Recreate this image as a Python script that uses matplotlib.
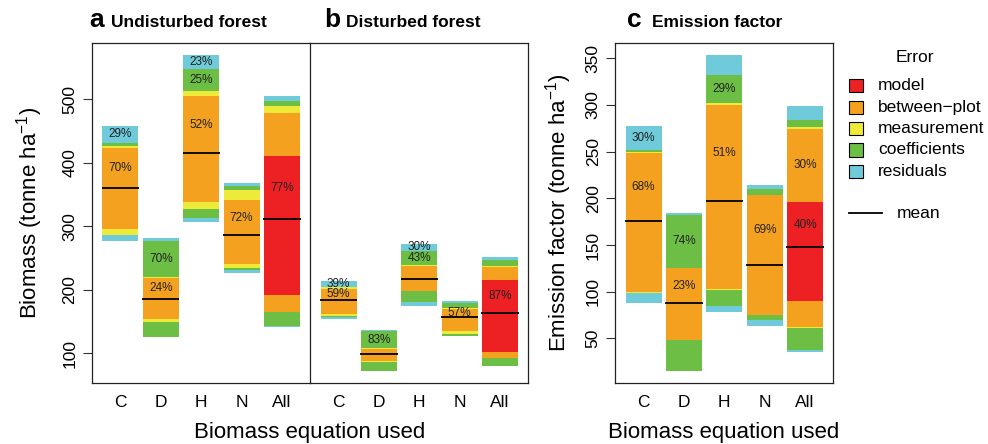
import matplotlib
matplotlib.use('Agg')
import matplotlib.pyplot as plt
import numpy as np
from matplotlib.patches import Rectangle
from matplotlib.lines import Line2D

plt.rcParams['font.family'] = ['Liberation Sans', 'DejaVu Sans']
plt.rcParams['mathtext.fontset'] = 'custom'
plt.rcParams['mathtext.rm'] = 'Liberation Sans'
plt.rcParams['mathtext.it'] = 'Liberation Sans:italic'
plt.rcParams['mathtext.bf'] = 'Liberation Sans:bold'

groups = ['C', 'D', 'H', 'N', 'All']
layers = ['model', 'between', 'meas', 'coef', 'resid']
layer_names = ['model', 'between\u2212plot', 'measurement', 'coefficients', 'residuals']
colors = {'model': '#ED2024', 'between': '#F4A11F', 'meas': '#EEEA3A',
          'coef': '#6DBE45', 'resid': '#6FCBDA'}

# a: undisturbed forest (lo, hi) of each error layer, innermost first
undist_mean = [360, 186, 415, 286, 311]
undist_model = [(360, 360), (186, 186), (415, 415), (286, 286), (192, 411)]
undist_between = [(296, 423), (154, 219), (338, 505), (241, 341), (165, 478)]
undist_meas = [(286, 426), (150, 220), (327, 513), (234, 357), (165, 490)]
undist_coef = [(286, 431), (125, 277), (313, 548), (231, 364), (143, 497)]
undist_resid = [(277, 458), (125, 282), (306, 570), (227, 368), (142, 505)]
undist_pct = {'model': ['', '', '', '', '77%'],
              'between': ['70%', '24%', '52%', '72%', ''],
              'coef': ['', '70%', '25%', '', ''],
              'resid': ['29%', '', '23%', '', '']}

# b: disturbed forest
dist_mean = [184, 99, 217.5, 156.7, 164]
dist_model = [(184, 184), (99, 99), (217.5, 217.5), (156.7, 156.7), (102, 215.4)]
dist_between = [(162, 201.7), (88, 106.8), (198, 237.7), (135, 170.3), (92.6, 236)]
dist_meas = [(158.7, 203.8), (86.5, 107.8), (198, 239), (130.8, 171.8), (92.6, 237.5)]
dist_coef = [(156.7, 204), (72, 135), (180.8, 261.6), (127.6, 179), (80.5, 247)]
dist_resid = [(154.5, 213.9), (72, 136.7), (174.5, 272), (127.6, 182.4), (80.5, 251.6)]
dist_pct = {'model': ['', '', '', '', '87%'],
            'between': ['59%', '', '', '57%', ''],
            'coef': ['', '83%', '43%', '', ''],
            'resid': ['39%', '', '30%', '', '']}

# c: emission factor
ef_mean = [176, 87.5, 197.5, 129, 147.5]
ef_model = [(176, 176), (87.5, 87.5), (197.5, 197.5), (129, 129), (90, 196)]
ef_between = [(99.6, 249), (48.2, 125.4), (102.9, 300.4), (75, 203), (61.8, 274.6)]
ef_meas = [(98.6, 249.6), (48.2, 125.4), (102, 302.5), (75, 203.6), (61.5, 276.4)]
ef_coef = [(98.6, 251.8), (15.4, 182.1), (85, 332.5), (70, 210), (37.5, 283.9)]
ef_resid = [(88.2, 277.5), (15.4, 184.3), (78.6, 353.6), (63.6, 214.3), (35.4, 298.9)]
ef_pct = {'model': ['', '', '', '', '40%'],
          'between': ['68%', '23%', '51%', '69%', '30%'],
          'coef': ['', '74%', '29%', '', ''],
          'resid': ['30%', '', '', '', '']}

W, H = 988, 444


def px(x):
    return x / W


def py(y):
    return 1 - y / H


def draw_panel(ax, mean, bounds, pcts):
    x = np.arange(1, len(groups) + 1)
    # outermost layer first, inner layers painted over it
    for layer in reversed(layers):
        lo = np.array([b[0] for b in bounds[layer]])
        hi = np.array([b[1] for b in bounds[layer]])
        ax.bar(x, hi - lo, bottom=lo, width=0.89, color=colors[layer], linewidth=0)
    ax.hlines(mean, x - 0.46, x + 0.46, color='black', lw=1.3)
    for i in range(len(groups)):
        prev = mean[i]
        for layer in layers:
            hi = bounds[layer][i][1]
            t = pcts.get(layer, [''] * 5)[i]
            if t:
                ax.text(x[i], (prev + hi) / 2, t, ha='center', va='center',
                        fontsize=8.5, color='#222222')
            prev = hi
    ax.set_xlim(0.3, 5.7)
    ax.set_xticks(x)
    ax.set_xticklabels(groups)
    ax.tick_params(axis='x', length=0, pad=8.5, labelsize=12.5)
    ax.tick_params(axis='y', length=6.5, width=0.8, pad=4, labelsize=12.5,
                   labelrotation=90, color='#333333')
    for s in ax.spines.values():
        s.set_linewidth(0.9)
        s.set_color('#222222')


fig = plt.figure(figsize=(W / 100, H / 100), dpi=100)
bottom, top = py(383.3), py(42.7)
ax_a = fig.add_axes([px(92), bottom, px(218.3), top - bottom])
ax_b = fig.add_axes([px(310.3), bottom, px(218), top - bottom])
ax_c = fig.add_axes([px(615.3), bottom, px(218), top - bottom])

draw_panel(ax_a, undist_mean,
           dict(zip(layers, [undist_model, undist_between, undist_meas, undist_coef, undist_resid])),
           undist_pct)
draw_panel(ax_b, dist_mean,
           dict(zip(layers, [dist_model, dist_between, dist_meas, dist_coef, dist_resid])),
           dist_pct)
draw_panel(ax_c, ef_mean,
           dict(zip(layers, [ef_model, ef_between, ef_meas, ef_coef, ef_resid])),
           ef_pct)

for ax in (ax_a, ax_b):
    ax.set_ylim(52.8, 589)
ax_a.set_yticks([100, 200, 300, 400, 500])
ax_b.set_yticks([])
# the line between a and b is drawn by panel b's left spine
ax_a.spines['right'].set_visible(False)
ax_b.patch.set_visible(False)
ax_c.set_ylim(1.8, 366.7)
ax_c.set_yticks([50, 100, 150, 200, 250, 300, 350])
for ax in (ax_a, ax_c):
    for lbl in ax.get_yticklabels():
        lbl.set_va('center')

# panel titles
ty = py(26.7)
fig.text(px(89), ty, 'a', fontsize=19, fontweight='bold', va='baseline')
fig.text(px(111), ty, 'Undisturbed forest', fontsize=12.5, fontweight='bold', va='baseline')
fig.text(px(324), ty, 'b', fontsize=19, fontweight='bold', va='baseline')
fig.text(px(346), ty, 'Disturbed forest', fontsize=12.5, fontweight='bold', va='baseline')
fig.text(px(627), ty, 'c', fontsize=19, fontweight='bold', va='baseline')
fig.text(px(652), ty, 'Emission factor', fontsize=12.5, fontweight='bold', va='baseline')

# axis labels
fig.text(px(310), py(438), 'Biomass equation used', fontsize=16, ha='center', va='baseline')
fig.text(px(724), py(438), 'Biomass equation used', fontsize=16, ha='center', va='baseline')
mid = (top + bottom) / 2
fig.text(px(29.5), mid, 'Biomass (tonne ha$^{-1}$)', fontsize=16, rotation=90,
         ha='center', va='center')
fig.text(px(559), mid, 'Emission factor (tonne ha$^{-1}$)', fontsize=16, rotation=90,
         ha='center', va='center')

# legend
fig.text(px(914.5), py(58), 'Error', fontsize=12.5, ha='center', va='center')
sq = 13.3
row_y = [85.7, 107.3, 128.7, 150, 171.3]
for layer, name, yy in zip(layers, layer_names, row_y):
    fig.add_artist(Rectangle((px(856 - sq / 2), py(yy + sq / 2)), px(sq), sq / H,
                             transform=fig.transFigure, facecolor=colors[layer],
                             edgecolor='black', lw=0.8))
    fig.text(px(878), py(yy), name, fontsize=12.5, va='center')
fig.add_artist(Line2D([px(849), px(882)], [py(213.3), py(213.3)],
                      transform=fig.transFigure, color='black', lw=1.3))
fig.text(px(897), py(213.3), 'mean', fontsize=12.5, va='center')

fig.savefig('out.png', dpi=100)
